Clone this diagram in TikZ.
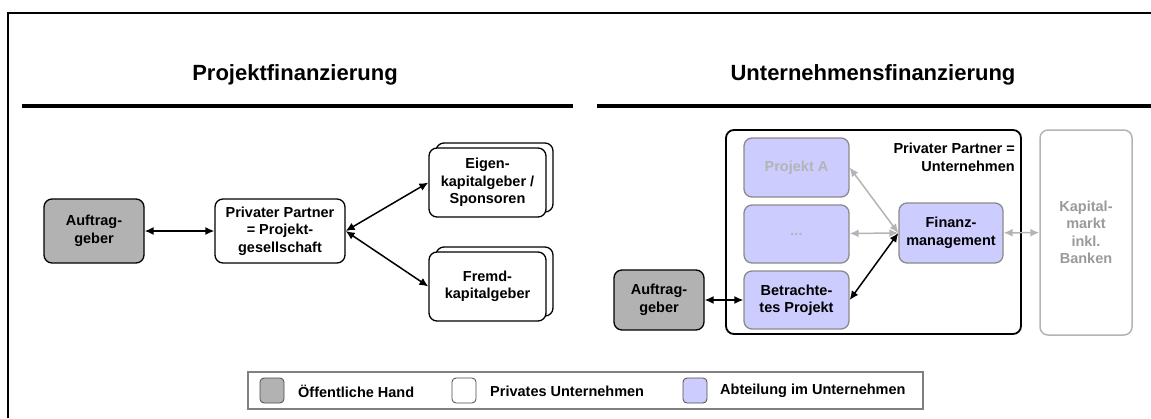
\documentclass[tikz,border=0pt]{standalone}
\usepackage{fontspec}
\setmainfont{Liberation Sans}
\usetikzlibrary{arrows.meta}
\definecolor{handgray}{HTML}{B2B2B2}
\definecolor{abtlila}{HTML}{CCCCFF}
\definecolor{fadegray}{HTML}{B4B4B4}
\definecolor{rimgray}{HTML}{8A8A8A}
\definecolor{kapgray}{HTML}{9A9A9A}

\begin{document}
\begin{tikzpicture}[x=1pt,y=-1pt,
    font=\bfseries\fontsize{14.5}{17.5}\selectfont,
    box/.style={draw,line width=1.3pt,rounded corners=8pt,align=center,inner sep=0pt},
    hand/.style={box,fill=handgray},
    privat/.style={box,fill=white},
    abteil/.style={box,draw=rimgray,fill=abtlila},
    titel/.style={font=\bfseries\fontsize{22}{26}\selectfont},
    pfeil/.style={{Latex[length=9pt,width=8pt]}-{Latex[length=9pt,width=8pt]},line width=1.5pt},
    graupfeil/.style={pfeil,fadegray},
    swatch/.style={draw=black!70,line width=.8pt,rounded corners=4pt,minimum width=24,minimum height=25,inner sep=0pt}]
      \useasboundingbox (0,0) rectangle (1151,418);
      % frame and headings
      \draw[line width=2pt] (8,418) -- (8,13) -- (1151,13);
      \node[titel] (projfin) at (295,75) {Projektfinanzierung};
      \node[titel] (unternfin) at (873,75) {Unternehmensfinanzierung};
      \draw[line width=4pt] (22,106) -- (573,106);
      \draw[line width=4pt] (597,106) -- (1151,106);
      % Projektfinanzierung
      \node[hand,minimum width=100,minimum height=64] (aglinks) at (94,231) {Auftrag-\\geber};
      \node[privat,minimum width=130,minimum height=64] (pp) at (280,231) {Privater Partner\\= Projekt-\\gesellschaft};
      \node[privat,minimum width=117,minimum height=69] (eigenback) at (494.5,177.5) {};
      \node[privat,minimum width=117,minimum height=69] (eigen) at (487.5,182.5) {Eigen-\\kapitalgeber /\\Sponsoren};
      \node[privat,minimum width=117,minimum height=69] (fremdback) at (494.5,281.5) {};
      \node[privat,minimum width=117,minimum height=69] (fremd) at (487.5,286.5) {Fremd-\\kapitalgeber};
      \draw[pfeil] (aglinks) -- (pp);
      \draw[pfeil] (pp.east) -- (eigen.west);
      \draw[pfeil] (pp.east) -- (fremd.west);
      % Unternehmensfinanzierung
      \node[box,line width=1.8pt,minimum width=295,minimum height=204] (untern) at (873.5,232) {};
      \node[anchor=north east,align=right,inner sep=0pt] (unternlabel) at (1015,143) {Privater Partner =\\Unternehmen};
      \node[abteil,text=fadegray,minimum width=105,minimum height=59] (projA) at (796.5,167.5) {Projekt A};
      \node[abteil,text=fadegray,minimum width=105,minimum height=58] (dots) at (796.5,234) {...};
      \node[abteil,minimum width=105,minimum height=58] (betr) at (796.5,300) {Betrachte-\\tes Projekt};
      \node[abteil,minimum width=104,minimum height=60] (finanz) at (951,233) {Finanz-\\management};
      \node[box,draw=fadegray,line width=1.5pt,text=kapgray,minimum width=92,minimum height=205] (kapital) at (1086,232.5) {Kapital-\\markt\\inkl.\\Banken};
      \node[hand,minimum width=90,minimum height=60] (agrechts) at (659,300) {Auftrag-\\geber};
      \draw[pfeil] (agrechts) -- (betr);
      \draw[pfeil] (betr.east) -- (finanz.west);
      \draw[graupfeil] (projA.east) -- (finanz.west);
      \draw[graupfeil] (dots) -- (finanz.west);
      \draw[graupfeil] (finanz) -- (kapital);
      % legend
      \draw[draw=black!50,line width=2pt] (248,372) rectangle (923,409);
      \node[swatch,fill=handgray] (leghand) at (272,390.5) {};
      \node[anchor=west,inner sep=0pt] (leghandtext) at (298,391) {Öffentliche Hand};
      \node[swatch,fill=white] (legprivat) at (464,390.5) {};
      \node[anchor=west,inner sep=0pt] (legprivattext) at (490,391) {Privates Unternehmen};
      \node[swatch,fill=abtlila] (legabteil) at (695,390.5) {};
      \node[anchor=west,inner sep=0pt] (legabteiltext) at (720,391) {Abteilung im Unternehmen};
    \end{tikzpicture}
\end{document}
